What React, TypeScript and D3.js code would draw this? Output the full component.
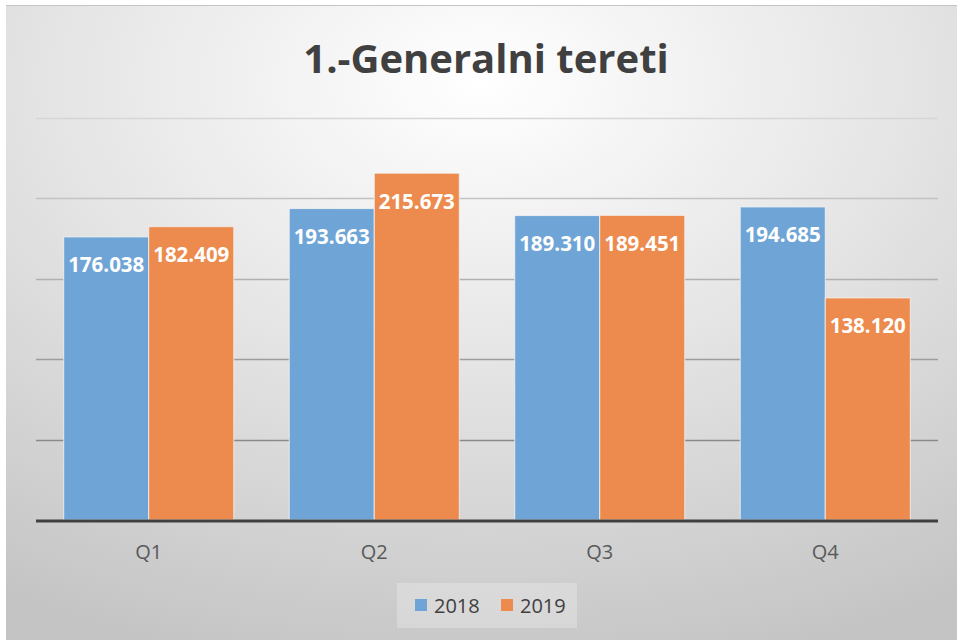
import * as d3 from 'd3';
import { useEffect, useRef } from 'react';

const categories = ['Q1', 'Q2', 'Q3', 'Q4'];
const seriesNames = ['2018', '2019'];
const values2018 = [176.038, 193.663, 189.31, 194.685];
const values2019 = [182.409, 215.673, 189.451, 138.12];
const yTicks = [50, 100, 150, 200, 250];
const colors = ['#6fa5d6', '#ec8b4d'];

const App = () => {
  const svgRef = useRef<SVGSVGElement | null>(null);

  useEffect(() => {
    if (!svgRef.current) return;
    const width = 957;
    const height = 640;

    const svg = d3.select(svgRef.current)
      .html('')
      .attr('width', width)
      .attr('height', height)
      .style('display', 'block');

    const defs = svg.append('defs');
    const grad = defs.append('radialGradient')
      .attr('id', 'bg')
      .attr('cx', '50%')
      .attr('cy', '12%')
      .attr('r', '95%');
    grad.append('stop').attr('offset', '0%').attr('stop-color', '#ffffff');
    grad.append('stop').attr('offset', '45%').attr('stop-color', '#e6e6e6');
    grad.append('stop').attr('offset', '100%').attr('stop-color', '#c4c4c4');

    // page + chart frame
    svg.append('rect').attr('width', width).attr('height', height).attr('fill', '#ffffff');
    svg.append('rect')
      .attr('x', 6).attr('y', 5)
      .attr('width', width - 6).attr('height', height - 5)
      .attr('fill', 'url(#bg)');
    svg.append('line')
      .attr('x1', 6).attr('x2', width)
      .attr('y1', 5.5).attr('y2', 5.5)
      .attr('stroke', '#c4c4c4')
      .attr('stroke-width', 1);

    const plotLeft = 36;
    const plotRight = 938;
    const plotTop = 118;
    const plotBottom = 520;

    const x0 = d3.scaleBand<string>()
      .domain(categories)
      .range([plotLeft, plotRight])
      .padding(0);

    const x1 = d3.scaleBand<string>()
      .domain(seriesNames)
      .range([0, x0.bandwidth()])
      .paddingInner(0)
      .paddingOuter(0.326);

    const y = d3.scaleLinear()
      .domain([0, 250])
      .range([plotBottom, plotTop]);

    // gridlines
    const gridColor = d3.interpolateRgb('#8a8a8a', '#d6d6d6');
    svg.append('g')
      .selectAll('line')
      .data(yTicks)
      .enter().append('line')
      .attr('x1', plotLeft)
      .attr('x2', plotRight)
      .attr('y1', d => Math.round(y(d)) + 0.5)
      .attr('y2', d => Math.round(y(d)) + 0.5)
      .attr('stroke', (d, i) => gridColor(i / (yTicks.length - 1)))
      .attr('stroke-width', 1.5);

    const rows = categories.map((c, i) => ({
      cat: c,
      vals: [values2018[i], values2019[i]],
    }));

    const groups = svg.append('g')
      .selectAll('g')
      .data(rows)
      .enter().append('g')
      .attr('transform', d => `translate(${x0(d.cat)},0)`);

    groups.selectAll('rect')
      .data(d => d.vals.map((v, i) => ({ name: seriesNames[i], v, i })))
      .enter().append('rect')
      .attr('x', d => x1(d.name)!)
      .attr('y', d => y(d.v))
      .attr('width', x1.bandwidth())
      .attr('height', d => y(0) - y(d.v))
      .attr('fill', d => colors[d.i])
      .attr('stroke', '#f4f4f4')
      .attr('stroke-opacity', 0.8)
      .attr('stroke-width', 1);

    groups.selectAll('text')
      .data(d => d.vals.map((v, i) => ({ name: seriesNames[i], v, i })))
      .enter().append('text')
      .attr('x', d => x1(d.name)! + x1.bandwidth() / 2)
      .attr('y', d => y(d.v) + 28)
      .attr('dy', '0.36em')
      .attr('text-anchor', 'middle')
      .attr('fill', '#ffffff')
      .style('font-family', '"Open Sans", sans-serif')
      .style('font-weight', 700)
      .style('font-size', '20.5px')
      .text(d => d3.format('.3f')(d.v));

    // baseline
    svg.append('line')
      .attr('x1', plotLeft)
      .attr('x2', plotRight)
      .attr('y1', y(0) + 1)
      .attr('y2', y(0) + 1)
      .attr('stroke', '#404040')
      .attr('stroke-width', 3);

    // category labels
    svg.append('g')
      .selectAll('text')
      .data(categories)
      .enter().append('text')
      .attr('x', d => x0(d)! + x0.bandwidth() / 2)
      .attr('y', 559)
      .attr('text-anchor', 'middle')
      .attr('fill', '#595959')
      .style('font-family', '"Open Sans", sans-serif')
      .style('font-size', '20px')
      .text(d => d);

    // title
    svg.append('text')
      .attr('x', 486)
      .attr('y', 73)
      .attr('text-anchor', 'middle')
      .attr('fill', '#404040')
      .style('font-family', '"Open Sans", sans-serif')
      .style('font-weight', 700)
      .style('font-size', '40px')
      .text('1.-Generalni tereti');

    // legend
    const legend = svg.append('g');
    legend.append('rect')
      .attr('x', 397).attr('y', 583)
      .attr('width', 180).attr('height', 45)
      .attr('fill', '#ffffff')
      .attr('fill-opacity', 0.25);
    const legendX = [415, 501];
    seriesNames.forEach((name, i) => {
      legend.append('rect')
        .attr('x', legendX[i]).attr('y', 599)
        .attr('width', 12).attr('height', 12)
        .attr('fill', colors[i]);
      legend.append('text')
        .attr('x', legendX[i] + 19)
        .attr('y', 613)
        .attr('fill', '#404040')
        .style('font-family', '"Open Sans", sans-serif')
        .style('font-size', '20px')
        .text(name);
    });
  }, []);

  return <svg ref={svgRef} style={{ position: 'absolute', left: 0, top: 0 }} />;
};

export default App;
